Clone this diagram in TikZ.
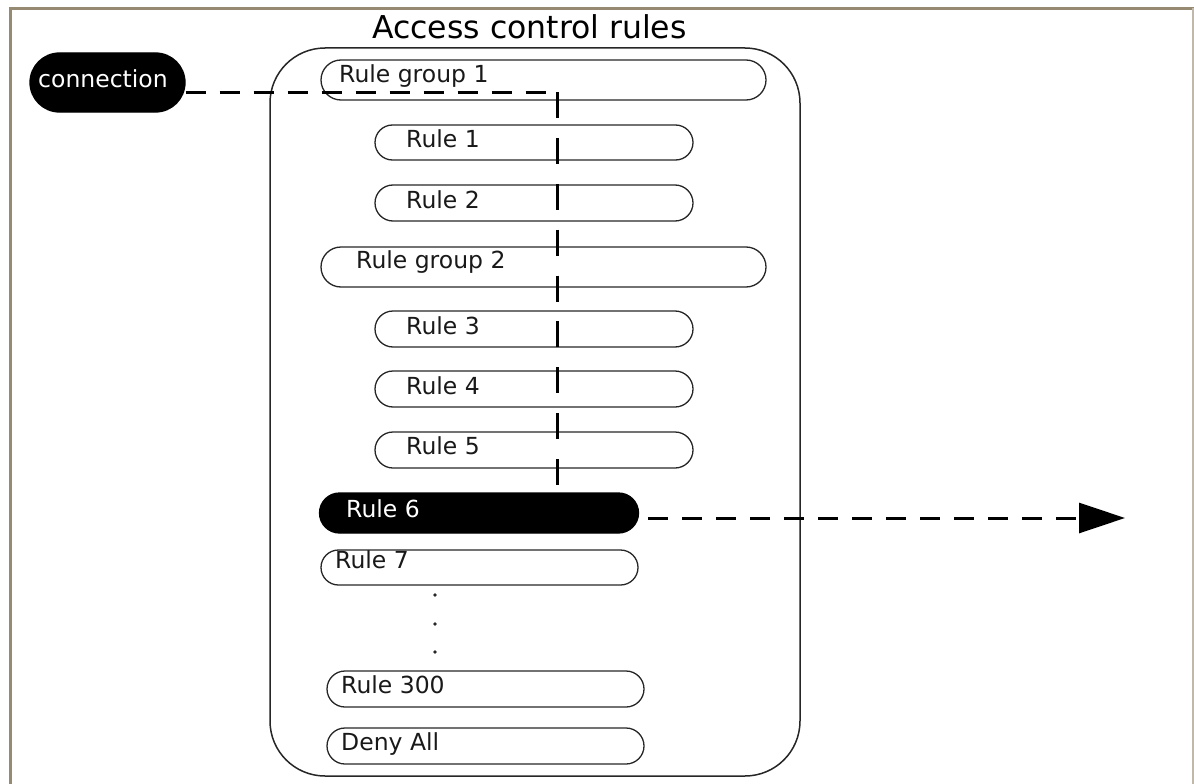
\documentclass[tikz,border=0pt]{standalone}
\usepackage{fontspec}
\setmainfont{DejaVu Sans}
\usetikzlibrary{shapes.misc,arrows.meta}
\definecolor{bordercol}{RGB}{150,138,115}
\tikzset{
  pill/.style={rounded rectangle, draw=black!85, line width=1.3pt, inner sep=0pt},
  blackpill/.style={rounded rectangle, draw=black, fill=black, line width=1.3pt, inner sep=0pt},
  lbl/.style={anchor=base west, inner sep=0pt, font=\fontsize{23.5}{26}\selectfont, text=black!90},
  wlbl/.style={anchor=base west, inner sep=0pt, font=\fontsize{23.5}{26}\selectfont, text=white},
  dashline/.style={line width=3pt, dash pattern=on 20pt off 14pt},
  vdashline/.style={line width=3pt, dash pattern=on 26pt off 19.875pt},
  dotmark/.style={circle, fill=black!85, inner sep=0pt, minimum size=3.6pt}
}
\begin{document}
\begin{tikzpicture}[x=1pt,y=-1pt]
\useasboundingbox (0,0) rectangle (1194,784);
% frame
\draw[bordercol, line width=3pt] (10,784) -- (10,8.5) -- (1194,8.5);
\draw[bordercol!60, line width=1.5pt] (1193,8.5) -- (1193,784);
% title
\node[anchor=base, inner sep=0pt, font=\fontsize{31.5}{34}\selectfont] (title) at (529.5,39) {Access control rules};
% container
\node[draw=black!85, line width=1.5pt, rounded corners=55pt, minimum width=530pt, minimum height=728pt, inner sep=0pt] (box) at (535,412) {};
% rule pills
\node[pill, minimum width=445pt, minimum height=40pt] (rg1) at (543.5,80) {};
\node[pill, minimum width=318pt, minimum height=35pt] (r1) at (534,142.5) {};
\node[pill, minimum width=318pt, minimum height=36pt] (r2) at (534,203) {};
\node[pill, minimum width=445pt, minimum height=40pt] (rg2) at (543.5,267) {};
\node[pill, minimum width=318pt, minimum height=36pt] (r3) at (534,329) {};
\node[pill, minimum width=318pt, minimum height=36pt] (r4) at (534,389) {};
\node[pill, minimum width=318pt, minimum height=36pt] (r5) at (534,450) {};
\node[blackpill, minimum width=319pt, minimum height=40pt] (r6) at (479,513) {};
\node[pill, minimum width=317pt, minimum height=35pt] (r7) at (479.5,567.5) {};
\node[pill, minimum width=317pt, minimum height=36pt] (r300) at (485.5,689) {};
\node[pill, minimum width=317pt, minimum height=36pt] (deny) at (485.5,746) {};
\node[blackpill, minimum width=155pt, minimum height=59pt] (conn) at (107.5,82.5) {};
% labels
\node[lbl] (trg1) at (339,82) {Rule group 1};
\node[lbl] (tr1) at (406,147) {Rule 1};
\node[lbl] (tr2) at (406,208) {Rule 2};
\node[lbl] (trg2) at (356,268.5) {Rule group 2};
\node[lbl] (tr3) at (406,334) {Rule 3};
\node[lbl] (tr4) at (406,394) {Rule 4};
\node[lbl] (tr5) at (406,454) {Rule 5};
\node[wlbl] (tr6) at (346,517) {Rule 6};
\node[lbl] (tr7) at (335,568.5) {Rule 7};
\node[lbl] (tr300) at (341,693) {Rule 300};
\node[lbl] (tdeny) at (341,750) {Deny All};
\node[wlbl] (tconn) at (38,88) {connection};
% dots
\node[dotmark] (d1) at (435,595) {};
\node[dotmark] (d2) at (435,624) {};
\node[dotmark] (d3) at (435,652) {};
% connectors
\coordinate (corner) at (557,92);
\coordinate (stop) at (557,485);
\coordinate (exitpt) at (1125,518);
\draw[dashline] (conn.east |- corner) -- (corner);
\draw[vdashline] (corner) -- (stop);
\draw[dashline, shorten <=9pt, -{Triangle[length=46pt,width=30pt]}] (r6.east |- exitpt) -- (exitpt);
\end{tikzpicture}
\end{document}
